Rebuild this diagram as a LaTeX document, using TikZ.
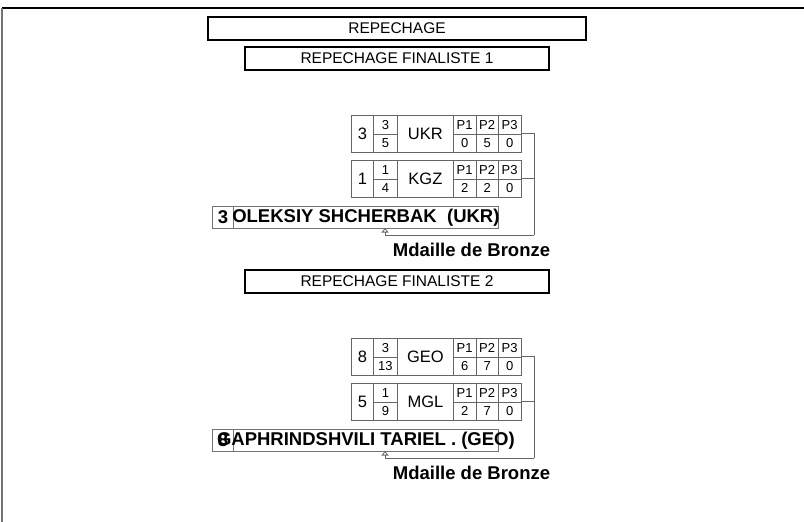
\documentclass[tikz,border=0pt]{standalone}
\usepackage{fontspec}
\setmainfont{Liberation Sans}
\usepackage{tikz}
\usetikzlibrary{arrows.meta,positioning,calc}
\definecolor{rowgray}{rgb}{0.40,0.40,0.40}
\definecolor{edgegray}{rgb}{0.45,0.45,0.45}

\begin{document}
\begin{tikzpicture}[
    x=1pt, y=-1pt,
    titlebox/.style={draw=black, line width=2pt, anchor=north west, inner sep=0pt,
        minimum height=23pt, font=\fontsize{15.5}{16}\selectfont},
    cell/.style={draw=rowgray, line width=0.8pt, anchor=north west, inner sep=0pt,
        minimum height=37pt, font=\fontsize{16.5}{17}\selectfont},
    half/.style={cell, minimum height=18.5pt, font=\fontsize{13}{13}\selectfont},
    namebox/.style={draw=edgegray, line width=0.8pt, anchor=north west, inner sep=0pt,
        minimum height=22pt},
    nametext/.style={inner sep=0pt, font=\bfseries\fontsize{18.5}{19}\selectfont},
    link/.style={draw=rowgray, line width=0.8pt}
]
    \useasboundingbox (0,0) rectangle (804,522);

    % page frame
    \draw[black, line width=1.4pt] (2,8) -- (804,8);
    \draw[edgegray, line width=2pt] (2,8) -- (2,522);

    % titles
    \node[titlebox, minimum width=378pt] (repechage) at (207,16) {REPECHAGE};
    \node[titlebox, minimum width=304pt] (final1) at (244,46) {REPECHAGE FINALISTE 1};
    \node[titlebox, minimum width=304pt] (final2) at (244,269) {REPECHAGE FINALISTE 2};

    % score rows
    \foreach \r/\y/\sd/\fa/\fb/\cty/\pa/\pb/\pc in {
        ukr/115/3/3/5/UKR/0/5/0,
        kgz/160/1/1/4/KGZ/2/2/0,
        geo/338/8/3/13/GEO/6/7/0,
        mgl/383/5/1/9/MGL/2/7/0} {
        \node[cell, minimum width=22pt] (\r-seed) at (351,\y) {\sd};
        \node[half, minimum width=24pt] (\r-fa) at (373,\y) {\fa};
        \node[half, minimum width=24pt] (\r-fb) at (373,\y+18.5) {\fb};
        \node[cell, minimum width=56pt] (\r-cty) at (397,\y) {\cty};
        \foreach \k/\v in {1/\pa, 2/\pb, 3/\pc} {
            \node[half, minimum width=22.5pt] (\r-p\k) at (453+22.5*\k-22.5,\y) {P\k};
            \node[half, minimum width=22.5pt] (\r-v\k) at (453+22.5*\k-22.5,\y+18.5) {\v};
        }
    }

    % winners
    \node[namebox, minimum width=21pt] (oleksiy-seed) at (212,206) {};
    \node[namebox, minimum width=265pt] (oleksiy) at (233,206) {};
    \node[nametext] (oleksiy-num) at (oleksiy-seed.center) {3};
    \node[nametext] (oleksiy-name) at (oleksiy.center) {OLEKSIY SHCHERBAK\ \ (UKR)};

    \node[namebox, minimum width=21pt] (tariel-seed) at (212,429) {};
    \node[namebox, minimum width=265pt] (tariel) at (233,429) {};
    \node[nametext] (tariel-num) at (tariel-seed.center) {8};
    \node[nametext] (tariel-name) at (tariel.center) {GAPHRINDSHVILI TARIEL . (GEO)};

    \node[nametext] (bronze1) at (471.5,250) {Mdaille de Bronze};
    \node[nametext] (bronze2) at (471.5,473) {Mdaille de Bronze};

    % connectors
    \coordinate (join1) at (534,235);
    \coordinate (join2) at (534,458);
    \coordinate (oleksiy-in) at (385,228);
    \coordinate (tariel-in) at (385,451);

    \draw[link] (ukr-v3.north east) -| (join1);
    \draw[link] (kgz-v3.north east) -- (kgz-v3.north east -| join1);
    \draw[link, -{Triangle[open, length=4.5pt, width=7pt]}] (join1) -| (oleksiy-in);

    \draw[link] (geo-v3.north east) -| (join2);
    \draw[link] (mgl-v3.north east) -- (mgl-v3.north east -| join2);
    \draw[link, -{Triangle[open, length=4.5pt, width=7pt]}] (join2) -| (tariel-in);

\end{tikzpicture}
\end{document}
